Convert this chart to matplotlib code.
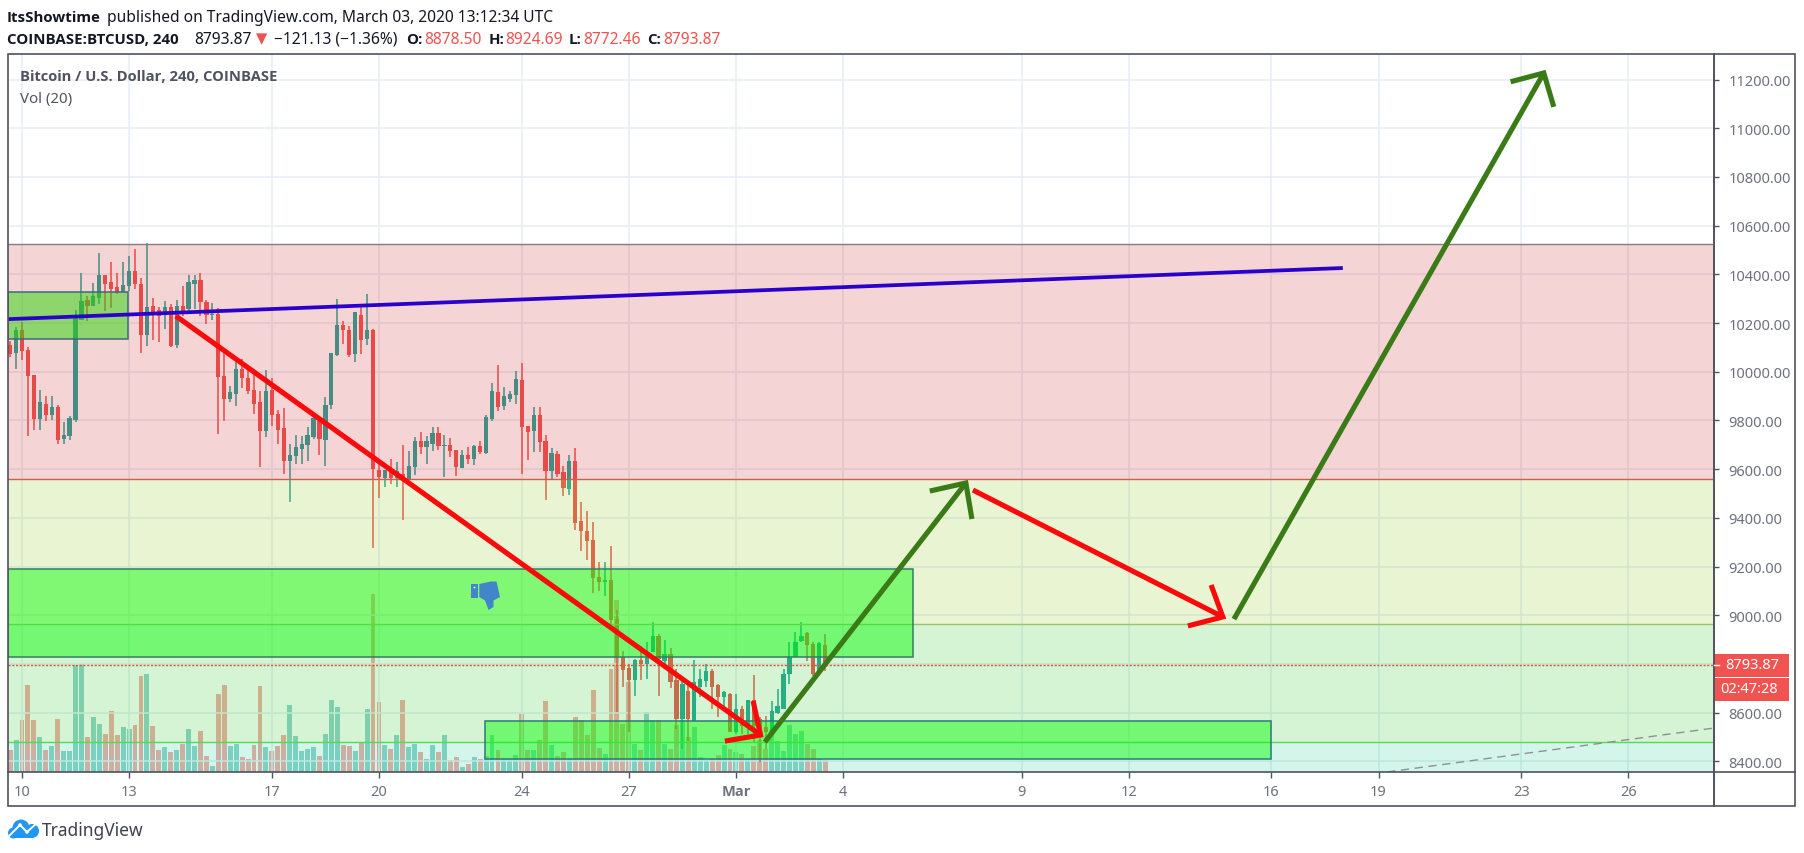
"""
BTCUSD 4h chart with hand drawn zones and arrows, TradingView style.
"""
import matplotlib

matplotlib.use("Agg")
import matplotlib.pyplot as plt
import numpy as np
from matplotlib.patches import Circle, Polygon, Rectangle

plt.rcParams["font.family"] = ["Noto Sans", "DejaVu Sans"]
BOLD = "Open Sans"

W, H = 1804, 854

# candles, 6 per day, first one two bars before Feb 10 00:00
first_bar = -2
opens = [
    10110, 10075, 10171, 10089, 9986, 9806, 9867, 9823, 9854, 9723,
    9734, 9801, 10214, 10294, 10268, 10301, 10397, 10367, 10346, 10329,
    10353, 10413, 10361, 10151, 10268, 10253, 10233, 10264, 10110, 10268,
    10257, 10360, 10376, 10285, 10233, 10237, 9981, 9888, 9908, 10011,
    9973, 9925, 9874, 9755, 9926, 9826, 9767, 9633, 9652, 9682,
    9699, 9730, 9799, 9721, 9863, 10068, 10192, 10171, 10073, 10233,
    10134, 10171, 9598, 9562, 9593, 9562, 9580, 9559, 9607, 9717,
    9689, 9703, 9747, 9695, 9699, 9678, 9603, 9658, 9642, 9694,
    9665, 9806, 9915, 9858, 9888, 9906, 9966, 9778, 9757, 9822,
    9715, 9591, 9662, 9587, 9518, 9633, 9386, 9346, 9308, 9156,
    9135, 9145, 8984, 8827, 8782, 8735, 8817, 8800, 8847, 8913,
    8813, 8841, 8734, 8574, 8690, 8567, 8704, 8731, 8772, 8713,
    8663, 8676, 8519, 8615, 8546, 8652, 8574, 8539, 8519, 8598,
    8615, 8759, 8827, 8893, 8927, 8882, 8759, 8878.50,
]
highs = [
    10127, 10182, 10203, 10100, 9986, 9925, 9899, 9899, 9863, 9792,
    9819, 10255, 10404, 10309, 10363, 10487, 10397, 10452, 10404, 10452,
    10474, 10506, 10387, 10528, 10301, 10264, 10292, 10278, 10294, 10353,
    10397, 10397, 10404, 10294, 10281, 10260, 10079, 9943, 10041, 10052,
    10011, 9990, 9922, 10007, 9973, 9844, 9849, 9703, 9740, 9734,
    9771, 9819, 9819, 9895, 10075, 10298, 10207, 10186, 10244, 10274,
    10319, 10175, 9621, 9598, 9641, 9628, 9699, 9676, 9731, 9751,
    9735, 9772, 9772, 9740, 9726, 9678, 9678, 9689, 9699, 9714,
    9822, 9952, 10028, 9936, 9922, 10002, 10034, 9778, 9854, 9854,
    9740, 9685, 9673, 9614, 9658, 9685, 9464, 9427, 9381, 9217,
    9217, 9283, 9023, 8852, 8800, 8820, 8875, 8889, 8973, 8923,
    8900, 8864, 8779, 8741, 8731, 8816, 8779, 8800, 8779, 8717,
    8690, 8680, 8676, 8626, 8652, 8754, 8580, 8584, 8649, 8697,
    8779, 8891, 8930, 8973, 8932, 8889, 8889, 8924.69,
]
lows = [
    10059, 10011, 10049, 9737, 9762, 9762, 9796, 9801, 9703, 9703,
    9721, 9792, 10214, 10208, 10268, 10278, 10248, 10261, 10319, 10329,
    10333, 10339, 10077, 10104, 10131, 10123, 10175, 10103, 10097, 10230,
    10246, 10257, 10227, 10196, 10214, 9744, 9796, 9877, 9858, 9933,
    9908, 9826, 9607, 9730, 9778, 9703, 9580, 9466, 9621, 9621,
    9632, 9723, 9659, 9611, 9847, 10063, 10114, 10059, 10038, 10073,
    10109, 9276, 9480, 9525, 9539, 9525, 9391, 9559, 9577, 9662,
    9621, 9673, 9678, 9566, 9648, 9570, 9603, 9621, 9617, 9662,
    9662, 9796, 9837, 9844, 9874, 9867, 9580, 9639, 9672, 9669,
    9474, 9559, 9566, 9488, 9494, 9351, 9262, 9228, 9091, 9098,
    9080, 8950, 8601, 8704, 8519, 8667, 8735, 8738, 8847, 8667,
    8779, 8700, 8533, 8450, 8485, 8567, 8663, 8704, 8615, 8580,
    8622, 8522, 8512, 8512, 8512, 8478, 8396, 8450, 8519, 8594,
    8615, 8717, 8827, 8891, 8813, 8752, 8759, 8772.46,
]
closes = [
    10073, 10171, 10086, 9984, 9806, 9874, 9823, 9854, 9721, 9740,
    9808, 10219, 10289, 10268, 10309, 10397, 10361, 10339, 10329, 10356,
    10413, 10361, 10151, 10264, 10246, 10230, 10264, 10107, 10268, 10250,
    10367, 10376, 10285, 10234, 10237, 9977, 9888, 9915, 10011, 9973,
    9919, 9867, 9755, 9919, 9822, 9762, 9634, 9658, 9689, 9703,
    9740, 9808, 9723, 9863, 10075, 10192, 10171, 10068, 10244, 10131,
    10171, 9600, 9566, 9598, 9562, 9593, 9559, 9611, 9714, 9689,
    9714, 9747, 9696, 9699, 9674, 9607, 9658, 9642, 9696, 9669,
    9813, 9919, 9854, 9899, 9908, 9970, 9772, 9751, 9822, 9710,
    9591, 9665, 9580, 9521, 9633, 9377, 9346, 9305, 9151, 9135,
    9143, 8980, 8823, 8776, 8735, 8817, 8800, 8827, 8916, 8820,
    8841, 8724, 8574, 8717, 8574, 8724, 8738, 8772, 8704, 8663,
    8683, 8522, 8615, 8546, 8652, 8546, 8512, 8519, 8608, 8626,
    8759, 8827, 8891, 8916, 8878, 8759, 8886, 8793.87,
]
# volume in arbitrary units, only the relative height can be read
volumes = [
    65, 97, 157, 262, 157, 105, 67, 78, 160, 63,
    63, 322, 325, 105, 165, 145, 115, 183, 112, 135,
    130, 142, 288, 295, 138, 67, 75, 60, 67, 85,
    130, 78, 123, 48, 18, 235, 262, 78, 85, 45,
    40, 82, 258, 75, 63, 78, 112, 202, 108, 63,
    70, 75, 48, 115, 217, 195, 82, 78, 63, 90,
    190, 534, 210, 82, 70, 112, 217, 75, 85, 60,
    40, 82, 60, 112, 37, 45, 15, 25, 45, 40,
    48, 110, 65, 40, 40, 52, 175, 67, 67, 97,
    213, 80, 48, 60, 40, 165, 155, 112, 247, 72,
    55, 310, 516, 145, 270, 85, 67, 180, 155, 155,
    85, 70, 142, 155, 105, 135, 45, 35, 40, 52,
    82, 68, 60, 55, 40, 78, 95, 70, 125, 93,
    62, 142, 115, 123, 85, 70, 40, 35,
]

price_ticks = list(range(8400, 11400, 200))
day_ticks = [0, 3, 7, 10, 14, 17, 20, 23, 28, 31, 35, 38, 42, 45]
day_labels = ["10", "13", "17", "20", "24", "27", "Mar", "4", "9", "12", "16", "19", "23", "26"]
last_price = 8793.87

# background zones, price bands
zone_tops = [10524, 9560, 8965, 8479]
zone_bottoms = [9560, 8965, 8479, 8340]
zone_colors = [(0.8, 0.157, 0.157), (0.569, 0.784, 0.137), (0.161, 0.8, 0.161), (0.137, 0.804, 0.588)]
zone_lines = ["#8a7a7a", "#c8604f", "#a0c070", "#55d855"]

# green boxes: day from, day to, price bottom, price top
box_days = [(-0.39, 24.96), (12.97, 34.99), (-0.39, 2.98)]
box_prices = [(8829, 9190), (8409, 8567), (10135, 10329)]

# drawings, (day, price)
blue_line = [(-0.39, 10216), (37.0, 10426)]
red_line1 = [(4.31, 10229), (20.69, 8508)]
red_head1 = [(19.69, 8483), (20.69, 8508), (20.48, 8648)]
green_line1 = [(20.81, 8479), (26.44, 9543)]
green_head1 = [(25.43, 9510), (26.44, 9543), (26.61, 9395)]
red_line2 = [(26.64, 9514), (33.64, 8993)]
red_head2 = [(33.31, 9124), (33.64, 8993), (32.66, 8956)]
green_line2 = [(33.95, 8984), (42.63, 11227)]
green_head2 = [(41.7, 11191), (42.63, 11227), (42.91, 11088)]
dash_line = [(38.24, 8356), (47.37, 8536)]

opens = np.array(opens)
closes = np.array(closes)
highs = np.array(highs)
lows = np.array(lows)
volumes = np.array(volumes)
days = (np.arange(len(opens)) + first_bar) / 6.0
up = closes >= opens

UP = "#26a69a"
DOWN = "#ef5350"
TEXT = "#131722"
AXIS = "#50535e"
LABEL = "#6f727c"
colors = np.where(up, UP, DOWN)


def ax_rect(x0, y0, x1, y1):
    return [x0 / W, 1 - y1 / H, (x1 - x0) / W, (y1 - y0) / H]


fig = plt.figure(figsize=(W / 100, H / 100), dpi=100, facecolor="white")
rect = ax_rect(8, 55, 1713, 773)
xlim = (-0.392, 47.37)
ylim = (8356, 11305)

# volume sits below the price panel so the zones wash over it
vol_ax = fig.add_axes(rect, zorder=1)
vol_ax.set_xlim(xlim)
vol_ax.set_ylim(0, 2154)
vol_ax.axis("off")
vol_ax.bar(days, volumes, width=0.138, color=colors, alpha=0.5, linewidth=0)

ax = fig.add_axes(rect, zorder=2)
ax.patch.set_alpha(0)
ax.set_xlim(xlim)
ax.set_ylim(ylim)
for s in ax.spines.values():
    s.set_visible(False)

ax.yaxis.tick_right()
ax.set_yticks(price_ticks)
ax.set_yticklabels([f"{p:.2f}" for p in price_ticks])
ax.set_xticks(day_ticks)
ax.set_xticklabels(day_labels)
ax.tick_params(axis="both", length=4, width=1, color=AXIS, labelcolor=LABEL, labelsize=10.5)
ax.tick_params(axis="x", pad=5)
ax.tick_params(axis="y", pad=7)
for lab in ax.get_xticklabels():
    if lab.get_text() == "Mar":
        lab.set_family(BOLD)
        lab.set_fontweight("bold")
ax.grid(True, color="#e6eef5", lw=1.1, zorder=0)
ax.set_axisbelow(True)

# candles
ax.vlines(days, lows, highs, colors=colors, lw=1.1, zorder=2)
ax.bar(
    days,
    np.abs(closes - opens).clip(min=6),
    bottom=np.minimum(opens, closes),
    width=0.118,
    color=colors,
    linewidth=0,
    zorder=2.1,
)

# zones on top of the candles
for top, bot, col, line in zip(zone_tops, zone_bottoms, zone_colors, zone_lines):
    ax.axhspan(bot, top, color=col, alpha=0.2, lw=0, zorder=3)
    ax.axhline(top, color=line, lw=1.0, zorder=3.1)

box_colors = [(0, 1, 0), (0, 1, 0), (0.165, 0.84, 0.04)]
box_edges = ["#2f7f66", "#2b7a78", "#41697a"]
box_alpha = [0.45, 0.45, 0.5]
for (d0, d1), (p0, p1), c, e, a in zip(box_days, box_prices, box_colors, box_edges, box_alpha):
    ax.add_patch(Rectangle((d0, p0), d1 - d0, p1 - p0, facecolor=(*c, a), edgecolor=e, lw=1.1, zorder=3.2))

ax.axhline(last_price, color="#e0513c", lw=1, ls=(0, (1.5, 1.2)), zorder=3.3)
ax.plot(*zip(*dash_line), color="#8f9095", lw=1, ls=(0, (6, 4)), zorder=3.4)

ax.plot(*zip(*blue_line), color="#2a00cc", lw=2.7, solid_capstyle="butt", zorder=4)
for pts in (red_line1, red_head1, red_line2, red_head2):
    ax.plot(*zip(*pts), color="#fa0a0a", lw=3.7, solid_capstyle="butt", solid_joinstyle="miter", zorder=5)
for pts in (green_line1, green_head1, green_line2, green_head2):
    ax.plot(*zip(*pts), color="#3a7a17", lw=3.7, solid_capstyle="butt", solid_joinstyle="miter", zorder=5)

# overlay in pixel coordinates for frame, header, tags and logo
ov = fig.add_axes([0, 0, 1, 1], zorder=3)
ov.set_xlim(0, W)
ov.set_ylim(H, 0)
ov.axis("off")
ov.add_patch(Rectangle((8, 55), 1787, 752, fill=False, edgecolor=AXIS, lw=1.2))
ov.plot([1714, 1714], [55, 807], color=AXIS, lw=1.4)
ov.plot([8, 1795], [773, 773], color=AXIS, lw=1.2)


def put(x, y, s, **kw):
    kw.setdefault("color", TEXT)
    kw.setdefault("fontsize", 11.2)
    ov.text(x, y, s, va="center", ha="left", **kw)


put(7, 18, "ItsShowtime", fontweight="bold", family=BOLD, fontsize=10.8)
put(107, 18, "published on TradingView.com, March 03, 2020 13:12:34 UTC")
put(7, 40, "COINBASE:BTCUSD, 240", fontweight="bold", family=BOLD, fontsize=10.8)
put(194, 40, "8793.87")
put(256, 39, "▼", color=DOWN, fontsize=10.5, family="DejaVu Sans")
put(274, 40, "−121.13 (−1.36%)")
for x, s, xv, v in [
    (406.5, "O:", 424, "8878.50"),
    (489, "H:", 505, "8924.69"),
    (569, "L:", 583, "8772.46"),
    (647, "C:", 663, "8793.87"),
]:
    put(x, 40, s, fontweight="bold", family=BOLD, fontsize=10.8)
    put(xv, 40, v, color=DOWN)

put(20, 77, "Bitcoin / U.S. Dollar, 240, COINBASE", color="#50535e", fontweight="bold", family=BOLD, fontsize=10.6)
put(20, 99, "Vol (20)", color="#50535e", fontsize=10.8)

# last price tag and countdown
ov.add_patch(Rectangle((1714, 655), 75, 23, color="#f05350", lw=0))
ov.add_patch(Rectangle((1715, 679), 74, 23, color="#f05350", lw=0))
ov.plot([1714, 1719], [666.4, 666.4], color="white", lw=1)
ov.text(1752, 666, "8793.87", color="white", fontsize=10.5, ha="center", va="center")
ov.text(1749, 690, "02:47:28", color="white", fontsize=10.5, ha="center", va="center")

# thumbs down
thumb = "#4285c9"
ov.add_patch(Rectangle((470.7, 585), 7.6, 14, color=thumb, lw=0))
ov.add_patch(Circle((474.5, 588.5), 0.9, color="white", lw=0))
hand = [(479.3, 585), (491, 582.5), (496.5, 582.5), (500, 598), (493.5, 601.5), (493.5, 608), (488.5, 611), (485, 601.5), (479.3, 598)]
ov.add_patch(Polygon(hand, closed=True, color=thumb, lw=0))

# TradingView logo
logo = "#2196f3"
for cx, cy, r in [(21, 829, 8.5), (13.5, 834, 5.5), (32, 832, 7)]:
    ov.add_patch(Circle((cx, cy), r, color=logo, lw=0))
ov.add_patch(Rectangle((13, 832), 20, 7, color=logo, lw=0))
ov.plot([9, 20, 27, 37], [837, 826, 833, 824], color="white", lw=1.4)
for cx, cy in [(20, 826), (27, 833)]:
    ov.add_patch(Circle((cx, cy), 1.8, color="white", lw=0))
put(42, 831, "TradingView", color="#3d414c", fontsize=12.5)

fig.savefig("out.png", dpi=100)
